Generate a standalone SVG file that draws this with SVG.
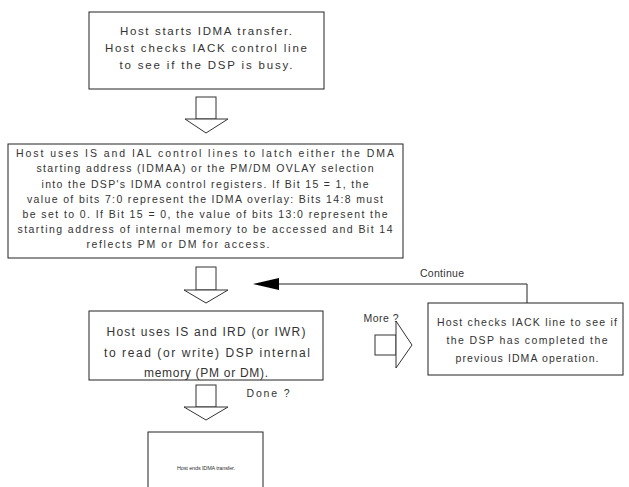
<svg xmlns="http://www.w3.org/2000/svg" width="629" height="487" viewBox="0 0 629 487">
<defs>
<style>
.box{fill:#fff;stroke:#222;stroke-width:1}
.arr{fill:#fff;stroke:#333;stroke-width:1}
.ln{fill:none;stroke:#222;stroke-width:1}
.head{fill:#000}
text{font-family:"Liberation Sans",Arial,sans-serif;fill:#333;text-anchor:middle}
.t12{font-size:11.5px}
.t11{font-size:10.5px}
.t13{font-size:12px}
.t7{font-size:5.5px}
</style>
</defs>
<rect width="629" height="487" fill="#fff"/>

<g id="connectors">
<g id="arrow1" class="arr"><rect x="196" y="97" width="20" height="22"/><path d="M185,119 L228,119 L206,133 Z"/></g>
<g id="arrow2" class="arr"><rect x="196" y="267" width="20" height="23"/><path d="M184,290 L228,290 L206,303 Z"/></g>
<g id="arrow3" class="arr"><rect x="196" y="385" width="20" height="22"/><path d="M184,407 L228,407 L206,420 Z"/></g>
<g id="arrowMore" class="arr"><rect x="375" y="335" width="21" height="20"/><path d="M396,321 L396,368 L412,345 Z"/></g>
<path id="continue" class="ln" d="M527,303 L527,284 L279,284"/>
<path class="head" d="M253,284 L279,278 L279,290 Z"/>
<text class="t11" x="442" y="277" textLength="44" lengthAdjust="spacing">Continue</text>
<text class="t11" x="381" y="322" textLength="35" lengthAdjust="spacing">More ?</text>
<text class="t11" x="268" y="397" textLength="43" lengthAdjust="spacing">Done ?</text>
</g>

<g id="n1">
<rect class="box" x="89" y="12" width="235" height="77"/>
<text class="t12" x="206" y="35" textLength="172" lengthAdjust="spacing">Host starts IDMA transfer.</text>
<text class="t12" x="206" y="52" textLength="202" lengthAdjust="spacing">Host checks IACK control line</text>
<text class="t12" x="206" y="69" textLength="173" lengthAdjust="spacing">to see if the DSP is busy.</text>
</g>

<g id="n2">
<rect class="box" x="8" y="144" width="395" height="114"/>
<text class="t11" x="205" y="157" textLength="378" lengthAdjust="spacing">Host uses IS and IAL control lines to latch either the DMA</text>
<text class="t11" x="205" y="172" textLength="337" lengthAdjust="spacing">starting address (IDMAA) or the PM/DM OVLAY selection</text>
<text class="t11" x="205" y="188" textLength="327" lengthAdjust="spacing">into the DSP's IDMA control registers. If Bit 15 = 1, the</text>
<text class="t11" x="205" y="203" textLength="356" lengthAdjust="spacing">value of bits 7:0 represent the IDMA overlay: Bits 14:8 must</text>
<text class="t11" x="205" y="218" textLength="365" lengthAdjust="spacing">be set to 0. If Bit 15 = 0, the value of bits 13:0 represent the</text>
<text class="t11" x="205" y="233" textLength="375" lengthAdjust="spacing">starting address of internal memory to be accessed and Bit 14</text>
<text class="t11" x="178" y="248" textLength="183" lengthAdjust="spacing">reflects PM or DM for access.</text>
</g>

<g id="n3">
<rect class="box" x="89" y="311" width="234" height="69"/>
<text class="t13" x="206" y="336" textLength="199" lengthAdjust="spacing">Host uses IS and IRD (or IWR)</text>
<text class="t13" x="207" y="357" textLength="206" lengthAdjust="spacing">to read (or write) DSP internal</text>
<text class="t13" x="206" y="377" textLength="124" lengthAdjust="spacing">memory (PM or DM).</text>
</g>

<g id="n4">
<rect class="box" x="428" y="303" width="195" height="72"/>
<text class="t11" x="527" y="326" textLength="180" lengthAdjust="spacing">Host checks IACK line to see if</text>
<text class="t11" x="527" y="344" textLength="161" lengthAdjust="spacing">the DSP has completed the</text>
<text class="t11" x="527" y="362" textLength="143" lengthAdjust="spacing">previous IDMA operation.</text>
</g>

<g id="n5">
<rect class="box" x="148" y="432" width="115" height="60"/>
<text class="t7" x="206" y="470" textLength="58" lengthAdjust="spacing">Host ends IDMA transfer.</text>
</g>
</svg>
